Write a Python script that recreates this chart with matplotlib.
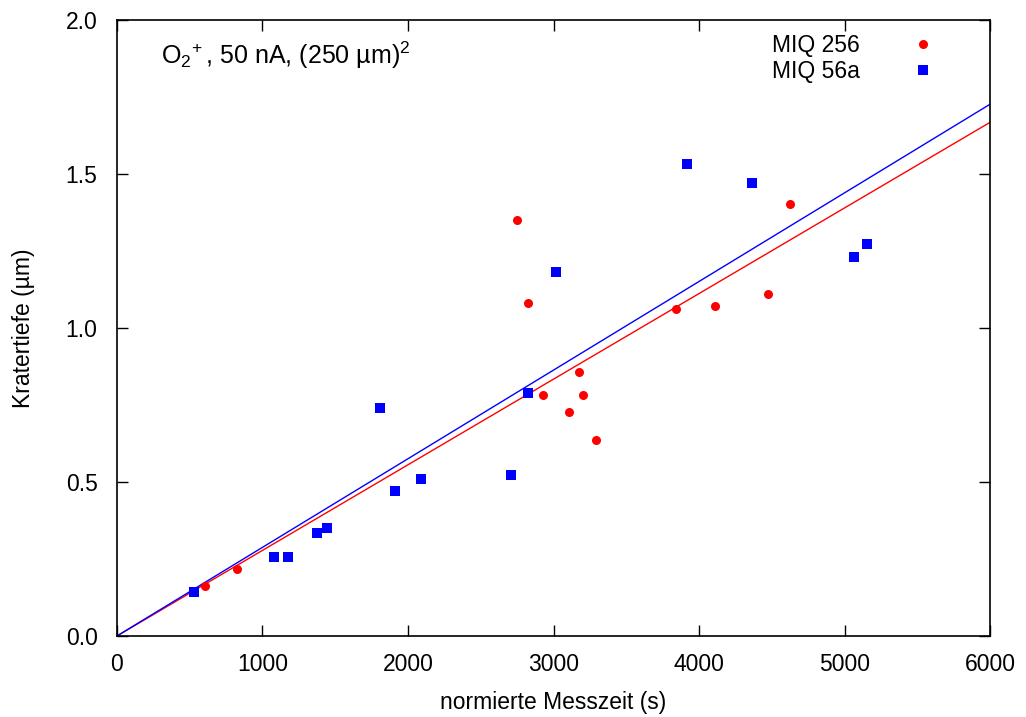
import matplotlib
matplotlib.use('Agg')
import matplotlib.pyplot as plt
import numpy as np

# MIQ 256 (red circles)
miq256_t = [605, 825, 2749, 2825, 2928, 3107, 3175, 3203, 3292, 3842, 4110, 4474, 4625]
miq256_d = [0.162, 0.218, 1.35, 1.081, 0.782, 0.727, 0.857, 0.782, 0.636, 1.062, 1.071, 1.11, 1.403]

# MIQ 56a (blue squares)
miq56a_t = [529, 1079, 1175, 1375, 1443, 1808, 1911, 2089, 2708, 2825, 3017, 3918, 4364, 5065, 5155]
miq56a_d = [0.143, 0.256, 0.256, 0.334, 0.351, 0.740, 0.471, 0.510, 0.523, 0.789, 1.182, 1.532, 1.471, 1.231, 1.273]

# slopes of the fits through the origin (um per s)
slopes = [2.78e-4, 2.878e-4]
labels = ['MIQ 256', 'MIQ 56a']

plt.rcParams['font.family'] = ['Liberation Sans', 'DejaVu Sans']
plt.rcParams['mathtext.fontset'] = 'custom'
plt.rcParams['mathtext.rm'] = 'Liberation Sans'
plt.rcParams['mathtext.it'] = 'Liberation Sans'

fs = 16.5
fig = plt.figure(figsize=(10.26, 7.17), dpi=100)
ax = fig.add_axes([0.114, 0.113, 0.851, 0.859])

xfit = np.array([0, 6000])
ax.plot(xfit, slopes[0] * xfit, color='#ff0000', lw=1)
ax.plot(xfit, slopes[1] * xfit, color='#0000ff', lw=1)

ax.plot(miq256_t, miq256_d, 'o', color='#ff0000', ms=6.5, mew=0, label=labels[0])
ax.plot(miq56a_t, miq56a_d, 's', color='#0000ff', ms=7.5, mew=0, label=labels[1])

ax.set_xlim(0, 6000)
ax.set_ylim(0, 2.0)
ax.set_xticks(np.arange(0, 6001, 1000))
ax.set_yticks(np.arange(0, 2.01, 0.5))
ax.set_yticklabels(['%.1f' % v for v in np.arange(0, 2.01, 0.5)])
ax.tick_params(direction='in', length=8, width=1, top=True, right=True,
               labelsize=fs)
ax.tick_params(axis='x', pad=12)
ax.tick_params(axis='y', pad=14)
for s in ax.spines.values():
    s.set_linewidth(1.2)

ax.set_xlabel('normierte Messzeit (s)', fontsize=fs, labelpad=11)
ax.set_ylabel('Kratertiefe (µm)', fontsize=fs, labelpad=22)

ax.text(0.05, 0.968, 'O$_2$$^{\\!+}$, 50 nA, (250 µm)$^{2}$', transform=ax.transAxes,
        fontsize=18, va='top', ha='left')

ax.legend(loc='upper right', markerfirst=False, frameon=False, fontsize=fs,
          handletextpad=1.75, borderaxespad=0.2, labelspacing=0.13,
          bbox_to_anchor=(0.965, 1.0))

fig.savefig('out.png', dpi=100)
